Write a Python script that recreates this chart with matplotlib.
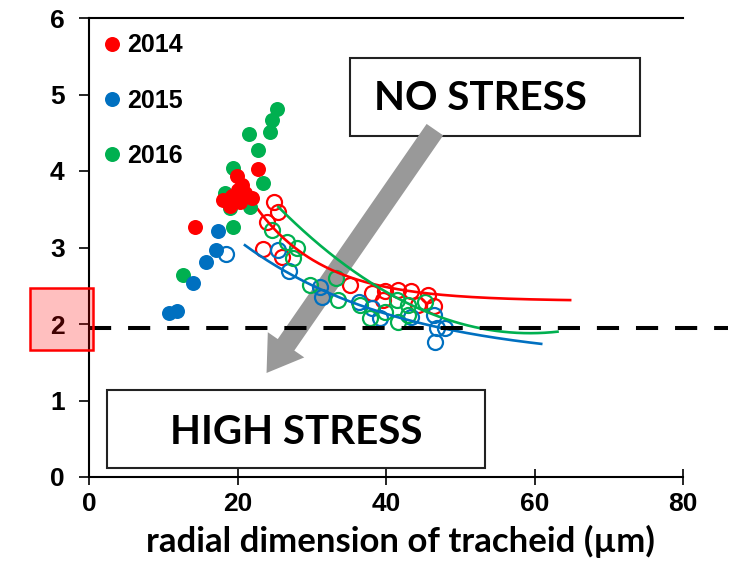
import numpy as np
import matplotlib
matplotlib.use("Agg")
import matplotlib.pyplot as plt
from matplotlib.patches import Rectangle, FancyArrowPatch

# ---------------- data ----------------
years = ["2014", "2015", "2016"]
colors = {"2014": "#FF0000", "2015": "#0070C0", "2016": "#00B050"}

# filled markers
filled_2014_x = [22.8, 19.9, 20.6, 21.0, 19.3, 18.1, 19.0, 20.4, 22.0, 20.1, 14.3]
filled_2014_y = [4.03, 3.93, 3.82, 3.71, 3.67, 3.62, 3.54, 3.59, 3.65, 3.75, 3.27]
filled_2015_x = [17.4, 17.1, 15.8, 14.0, 10.8, 11.9]
filled_2015_y = [3.22, 2.97, 2.81, 2.54, 2.14, 2.17]
filled_2016_x = [25.3, 24.7, 24.4, 21.6, 22.8, 19.4, 23.5, 18.3, 19.0, 21.7, 19.4, 12.7]
filled_2016_y = [4.81, 4.67, 4.51, 4.48, 4.27, 4.04, 3.84, 3.71, 3.52, 3.53, 3.27, 2.64]

# open markers
open_2014_x = [24.9, 25.5, 24.0, 23.5, 26.0, 35.2, 38.1, 39.9, 41.6, 43.3, 45.7, 46.4, 39.6, 44.3]
open_2014_y = [3.59, 3.46, 3.33, 2.98, 2.88, 2.51, 2.41, 2.43, 2.44, 2.43, 2.38, 2.24, 2.31, 2.25]
open_2015_x = [18.5, 25.5, 27.0, 31.1, 31.4, 36.3, 38.1, 39.2, 43.3, 46.4, 46.9, 48.0, 46.6]
open_2015_y = [2.92, 2.97, 2.69, 2.48, 2.35, 2.29, 2.21, 2.08, 2.09, 2.12, 1.95, 1.95, 1.76]
open_2016_x = [24.7, 26.7, 28.0, 27.5, 29.8, 33.2, 33.6, 36.5, 37.9, 39.9, 41.5, 43.0, 43.0, 45.3, 41.6]
open_2016_y = [3.23, 3.07, 2.99, 2.86, 2.51, 2.60, 2.31, 2.25, 2.08, 2.16, 2.31, 2.25, 2.12, 2.29, 2.03]

# trend-curve coefficients and their x ranges
trend_2014 = dict(kind="exp", a=2.30, b=1.23, c=0.1086, x0=22.5, xmin=22.5, xmax=64.8)
trend_2015 = dict(kind="exp", a=1.50, b=1.53, c=0.0464, x0=21.0, xmin=21.0, xmax=60.9)
trend_2016 = dict(kind="quad", v=1.88, k=0.001436, xv=59.4, xmin=25.5, xmax=63.1)

threshold = 1.95
x_ticks = [0, 20, 40, 60, 80]
y_ticks = [0, 1, 2, 3, 4, 5, 6]
xlabel = "radial dimension of tracheid (µm)"

# ---------------- figure ----------------
fig = plt.figure(figsize=(7.30, 5.69), dpi=100)
ax = fig.add_axes([89/730, 1-477/569, (683-89)/730, (477-18)/569])
ax.set_xlim(0, 80)
ax.set_ylim(0, 6)

def curve(t):
    xs = np.linspace(t["xmin"], t["xmax"], 200)
    if t["kind"] == "exp":
        ys = t["a"] + t["b"] * np.exp(-t["c"] * (xs - t["x0"]))
    else:
        ys = t["v"] + t["k"] * (xs - t["xv"]) ** 2
    return xs, ys

# arrow (behind data)
arrow = FancyArrowPatch((46.8, 4.57), (23.7, 1.33),
                        arrowstyle="simple,head_length=1.7,head_width=2.2,tail_width=1.0",
                        mutation_scale=14.5, color="#999999", lw=0, zorder=1)
ax.add_patch(arrow)

ms = 10.8
filled = {"2014": (filled_2014_x, filled_2014_y),
          "2015": (filled_2015_x, filled_2015_y),
          "2016": (filled_2016_x, filled_2016_y)}
opened = {"2014": (open_2014_x, open_2014_y),
          "2015": (open_2015_x, open_2015_y),
          "2016": (open_2016_x, open_2016_y)}
trends = {"2014": trend_2014, "2015": trend_2015, "2016": trend_2016}

handles = []
for yr in years:
    c = colors[yr]
    ox, oy = opened[yr]
    ax.plot(ox, oy, "o", ms=ms, mfc="none", mec=c, mew=1.6, zorder=3, clip_on=False)
for yr in years:
    c = colors[yr]
    xs, ys = curve(trends[yr])
    ax.plot(xs, ys, "-", color=c, lw=1.9, zorder=4, clip_on=False)
for yr in ["2016", "2015", "2014"]:
    c = colors[yr]
    fx, fy = filled[yr]
    ax.plot(fx, fy, "o", ms=ms, mfc=c, mec=c, mew=0, zorder=5, clip_on=False)

for yr in years:
    h, = ax.plot([], [], "o", ms=ms, mfc=colors[yr], mec=colors[yr], mew=0)
    handles.append(h)

# dashed threshold line, extends beyond axes
ax.plot([0, 86], [threshold, threshold], color="black", lw=2.9,
        dashes=(5.5, 4.2), zorder=6, clip_on=False)

# legend
leg = ax.legend(handles, years, loc="upper left", frameon=False,
                bbox_to_anchor=(0.0, 1.0), handlelength=0.6, handletextpad=0.3,
                labelspacing=1.25, borderaxespad=0.22,
                prop={"family": "Liberation Sans", "weight": "bold", "size": 18})

# spines / ticks
ax.spines["right"].set_visible(False)
for s in ["left", "bottom", "top"]:
    ax.spines[s].set_linewidth(1.5)
ax.set_xticks(x_ticks)
ax.set_yticks(y_ticks)
ax.tick_params(axis="x", direction="inout", length=12, width=1.2, pad=5)
ax.tick_params(axis="y", direction="out", length=7, width=1.2, pad=10.5)
for lab in ax.get_xticklabels():
    lab.set_fontfamily("Liberation Sans")
    lab.set_fontweight("bold")
    lab.set_fontsize(19)
for lab in ax.get_yticklabels():
    lab.set_fontfamily("Liberation Sans")
    lab.set_fontweight("bold")
    lab.set_fontsize(19)

ax.set_xlabel(xlabel, fontfamily="Lato", fontweight="bold", fontsize=25, labelpad=6)
ax.xaxis.set_label_coords((400 - 89) / 594, -0.105)
ax.xaxis.label.set_va("top")

# text boxes (figure pixel coords)
def px_rect(x0, y0, x1, y1, **kw):
    r = Rectangle((x0/730, 1-y1/569), (x1-x0)/730, (y1-y0)/569,
                  transform=fig.transFigure, **kw)
    fig.patches.append(r)

px_rect(350, 58, 640, 136, facecolor="white", edgecolor="#222222", lw=1.5, zorder=0)
px_rect(107, 390, 485, 468, facecolor="white", edgecolor="#222222", lw=1.5, zorder=0)
fig.text(480/730, 1-98/569, "NO STRESS", ha="center", va="center",
         fontfamily="Lato", fontweight="bold", fontsize=29)
fig.text(296/730, 1-432/569, "HIGH STRESS", ha="center", va="center",
         fontfamily="Lato", fontweight="bold", fontsize=29)

ax.set_zorder(2)
ax.patch.set_visible(False)

# highlighted "2" tick label box
px_rect(30, 288, 93, 350, facecolor=(1, 0, 0, 0.25), edgecolor="#FF0000", lw=1.8, zorder=10)

fig.savefig("out.png", dpi=100)
